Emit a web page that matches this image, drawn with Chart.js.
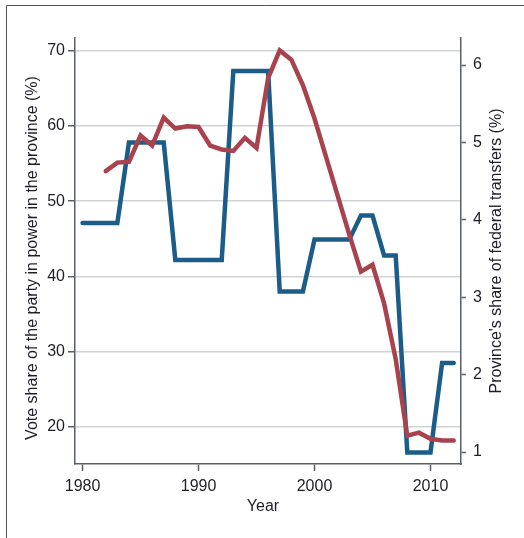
<!DOCTYPE html>
<html>
<head>
<meta charset="utf-8">
<script src="https://cdn.jsdelivr.net/npm/chart.js@4.4.1/dist/chart.umd.min.js"></script>
<style>
html,body{margin:0;padding:0;background:#fff;}
canvas{display:block;}
</style>
</head>
<body>
<canvas id="c" width="524" height="538"></canvas>
<script>
const years = [1980,1981,1982,1983,1984,1985,1986,1987,1988,1989,1990,1991,1992,1993,1994,1995,1996,1997,1998,1999,2000,2001,2002,2003,2004,2005,2006,2007,2008,2009,2010,2011,2012];
const voteShare = [47.1,47.1,47.1,47.1,57.8,57.8,57.8,57.8,42.2,42.2,42.2,42.2,42.2,67.3,67.3,67.3,67.3,38.0,38.0,38.0,44.9,44.9,44.9,44.9,48.1,48.1,42.8,42.8,16.6,16.6,16.6,28.5,28.5];
const transfers = [null,null,4.63,4.74,4.75,5.09,4.96,5.32,5.18,5.21,5.20,4.96,4.91,4.89,5.06,4.93,5.83,6.19,6.07,5.74,5.31,4.81,4.31,3.81,3.33,3.42,2.92,2.20,1.21,1.25,1.17,1.15,1.15];
const xTicks = [1980,1990,2000,2010];
const leftTicks = [20,30,40,50,60,70];
const rightTicks = [1,2,3,4,5,6];
const xTitle = 'Year';
const leftTitle = 'Vote share of the party in power in the province (%)';
const rightTitle = "Province's share of federal transfers (%)";

const FONT = '"Liberation Sans", Arial, sans-serif';
const TXT = '#1e1e28';
const AXIS = '#5a5e68';

const pts = (vals) => years.map((y,i)=>({x:y,y:vals[i]})).filter(p=>p.y!==null);

const framePlugin = {
  id:'frame',
  beforeDraw(chart){
    const ctx = chart.ctx;
    ctx.save();
    ctx.fillStyle='#fff';
    ctx.fillRect(0,0,chart.width,chart.height);
    ctx.strokeStyle='#555';
    ctx.lineWidth=1;
    ctx.beginPath();
    ctx.moveTo(6.5,538);
    ctx.lineTo(6.5,5.5);
    ctx.lineTo(524,5.5);
    ctx.stroke();
    ctx.restore();
  },
  afterDraw(chart){
    const ctx = chart.ctx;
    ctx.save();
    ctx.fillStyle = TXT;
    ctx.font = '16px ' + FONT;
    ctx.textAlign='center';
    ctx.textBaseline='middle';
    ctx.save();
    ctx.translate(33, 258);
    ctx.rotate(-Math.PI/2);
    ctx.fillText(leftTitle,0,0);
    ctx.restore();
    ctx.save();
    ctx.translate(497, 251);
    ctx.rotate(-Math.PI/2);
    ctx.fillText(rightTitle,0,0);
    ctx.restore();
    ctx.fillText(xTitle, 263, 507);
    ctx.restore();
  }
};

new Chart(document.getElementById('c'), {
  type:'line',
  data:{
    datasets:[
      {
        label:'Transfers',
        data: pts(transfers),
        yAxisID:'y2',
        borderColor:'#a8434e',
        borderWidth:4.5,
        pointRadius:0,
        tension:0,
        borderCapStyle:'round',
        borderJoinStyle:'miter',
        fill:false
      },
      {
        label:'Vote share',
        data: pts(voteShare),
        yAxisID:'y',
        borderColor:'#1b5d88',
        borderWidth:4.5,
        pointRadius:0,
        tension:0,
        borderCapStyle:'round',
        borderJoinStyle:'miter',
        fill:false
      }
    ]
  },
  options:{
    responsive:false,
    animation:false,
    layout:{padding:{top:38,left:0,right:0,bottom:0}},
    plugins:{legend:{display:false},tooltip:{enabled:false}},
    scales:{
      x:{
        type:'linear',
        min:1979.35, max:2012.63,
        afterBuildTicks(s){ s.ticks = xTicks.map(v=>({value:v})); },
        afterFit(s){ s.height = 74; },
        grid:{drawOnChartArea:false, drawTicks:true, tickLength:7, tickColor:AXIS, tickWidth:1.5},
        border:{display:true,color:AXIS,width:1.5},
        ticks:{color:TXT,font:{family:FONT,size:16},padding:6,maxRotation:0,autoSkip:false,callback:v=>String(v)},
        title:{display:false}
      },
      y:{
        type:'linear',
        position:'left',
        min:15.07, max:71.7,
        afterBuildTicks(s){ s.ticks = leftTicks.map(v=>({value:v})); },
        afterFit(s){ s.width = 75; },
        grid:{drawOnChartArea:true, color:'#d0d3d6', lineWidth:1.5, drawTicks:true, tickLength:7, tickColor:AXIS, tickWidth:1.5},
        border:{display:true,color:AXIS,width:1.5},
        ticks:{color:TXT,font:{family:FONT,size:16},padding:3,autoSkip:false},
        title:{display:false}
      },
      y2:{
        type:'linear',
        position:'right',
        min:0.845, max:6.35,
        afterBuildTicks(s){ s.ticks = rightTicks.map(v=>({value:v})); },
        afterFit(s){ s.width = 63; },
        grid:{drawOnChartArea:false, drawTicks:true, tickLength:5, tickColor:AXIS, tickWidth:1.5},
        border:{display:true,color:AXIS,width:1.5},
        ticks:{color:TXT,font:{family:FONT,size:16},padding:7,autoSkip:false},
        title:{display:false}
      }
    }
  },
  plugins:[framePlugin]
});
</script>
</body>
</html>
